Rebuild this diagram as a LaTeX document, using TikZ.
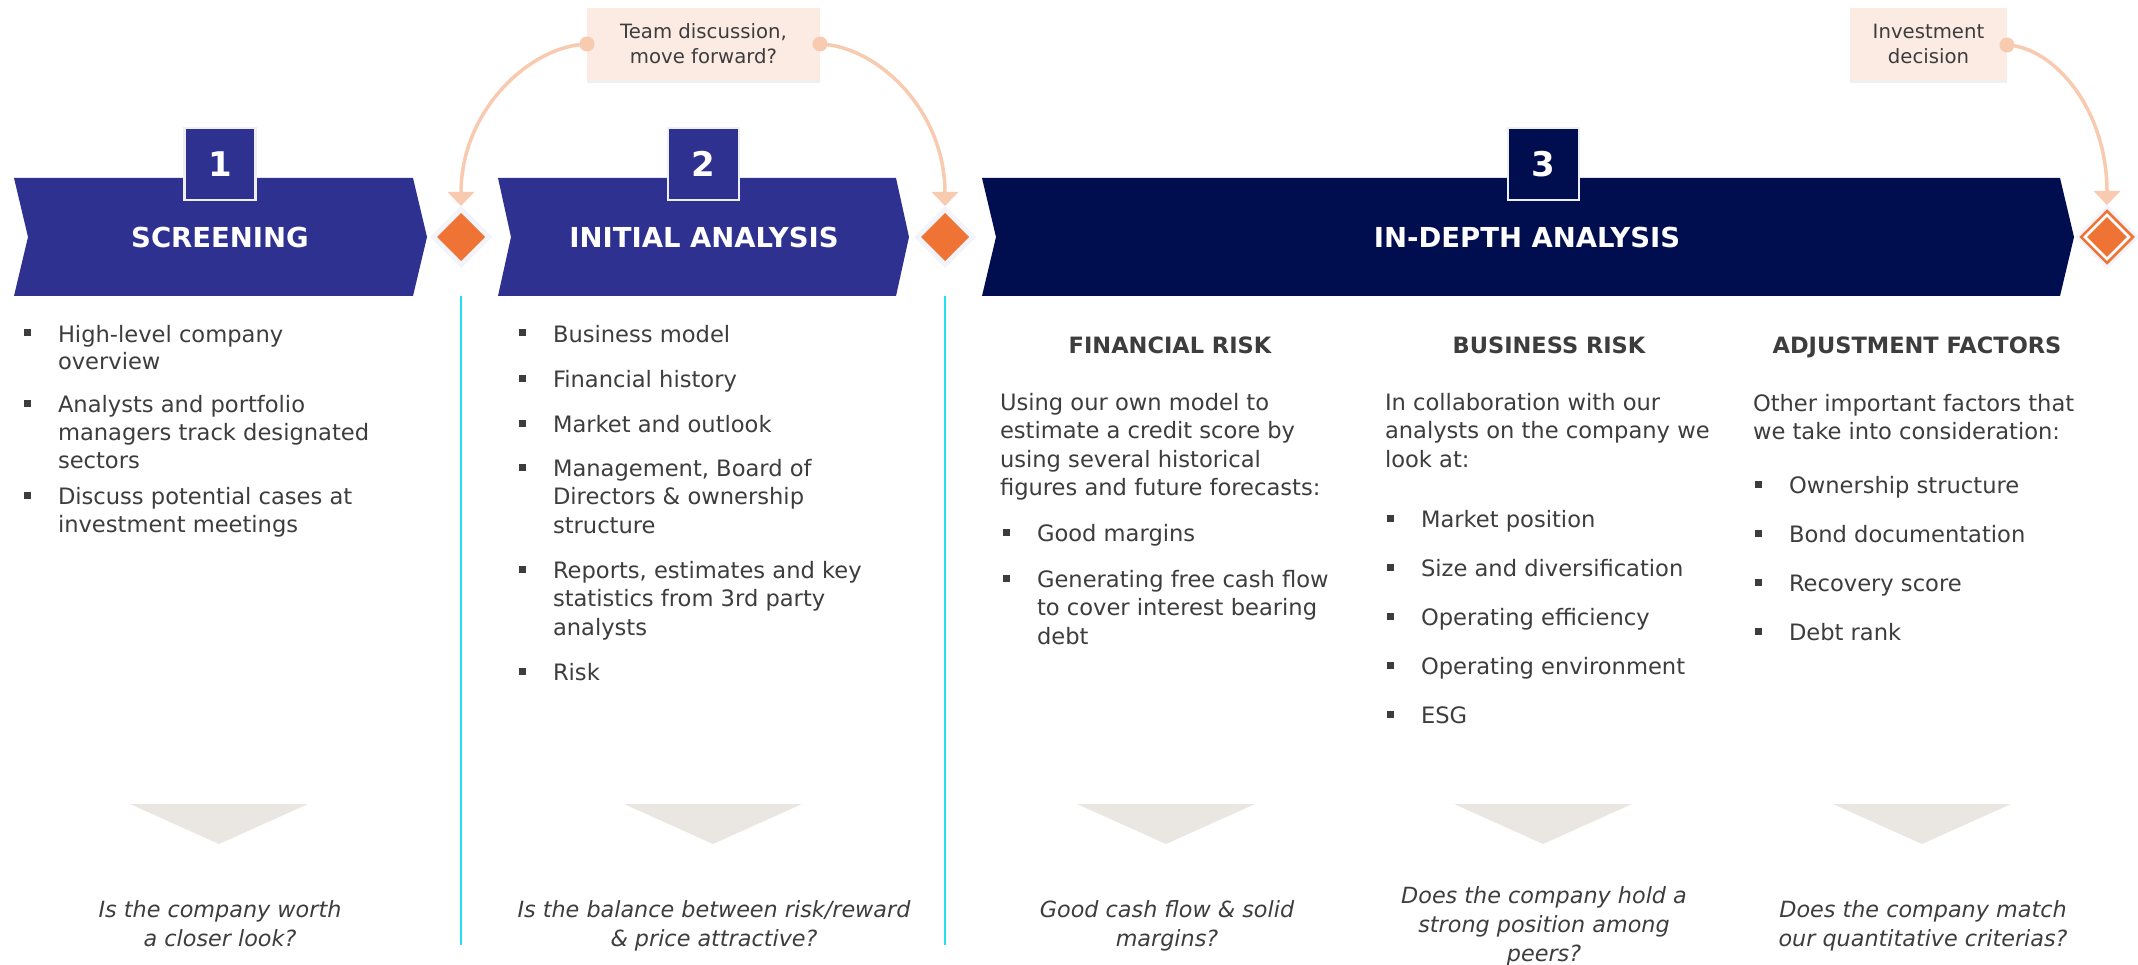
\documentclass[tikz,border=0pt]{standalone}
\usepackage{fontspec}
\setmainfont{DejaVu Sans}
\usetikzlibrary{arrows.meta,shapes.geometric,shadows,calc}

\definecolor{stepblue}{HTML}{2E3190}
\definecolor{stepnavy}{HTML}{000D4F}
\definecolor{boxedge}{HTML}{EDEEF6}
\definecolor{gate}{HTML}{EE7335}
\definecolor{gatehalo}{HTML}{F3F4F9}
\definecolor{peach}{HTML}{FCEBE3}
\definecolor{peachline}{HTML}{F8CAB0}
\definecolor{bodytext}{HTML}{3D3D3D}
\definecolor{divider}{HTML}{22DFF2}
\definecolor{pointergray}{HTML}{EAE7E2}

% multi-line text blocks whose baseline is the first line
\newcommand\lns[1]{\begin{tabular}[t]{@{}l@{}}#1\end{tabular}}
\newcommand\clns[1]{\begin{tabular}[t]{@{}c@{}}#1\end{tabular}}

% bullet item: [style]{name}{x}{first baseline}{lines}
\newcommand\bulletpt[5][]{%
  \node[bodytxt,#1,anchor=base west] (#2) at (#3,#4) {\lns{#5}};
  \fill[bodytext] ($(#2.base west)+(-34.5,-5.5)$) rectangle ++(7,-7);
}

% grey pointer triangle below a column
\newcommand\pointerat[2]{%
  \coordinate (#1) at (#2,844);
  \fill[pointer] ($(#1)+(-89,-40)$) -- ($(#1)+(89,-40)$) -- (#1) -- cycle;
}

\begin{document}
\begin{tikzpicture}[x=1pt,y=-1pt,
  bodytxt/.style={inner sep=0pt,outer sep=0pt,text=bodytext,font=\fontsize{22.6}{28.6}\selectfont},
  col1/.style={font=\fontsize{22.6}{28}\selectfont},
  head/.style={inner sep=0pt,outer sep=0pt,text=bodytext,font=\fontsize{22.5}{27}\selectfont\bfseries},
  question/.style={inner sep=0pt,outer sep=0pt,text=bodytext,font=\fontsize{22.3}{29}\selectfont\itshape},
  title/.style={inner sep=0pt,outer sep=0pt,text=white,font=\fontsize{27.5}{33}\selectfont\bfseries},
  numbox/.style={minimum width=71pt,minimum height=72pt,inner sep=0pt,draw=boxedge,line width=2.5pt,text=white,font=\fontsize{34}{40}\selectfont\bfseries},
  note/.style={fill=peach,inner sep=0pt,outer sep=0pt,minimum height=72pt,align=center,text=bodytext,
    font=\fontsize{19.7}{25}\selectfont,
    drop shadow={opacity=0.12,shadow xshift=0pt,shadow yshift=-3pt}},
  halo/.style={diamond,aspect=1,fill=gatehalo,minimum width=62pt,minimum height=62pt,inner sep=0pt,outer sep=0pt},
  core/.style={diamond,aspect=1,fill=gate,minimum width=48pt,minimum height=48pt,inner sep=0pt,outer sep=0pt},
  link/.style={draw=peachline,line width=3.5pt,-{Triangle[width=26pt,length=14pt]}},
  linkdot/.style={fill=peachline},
  divline/.style={draw=divider,line width=2pt},
  pointer/.style={fill=pointergray}
]
\useasboundingbox (0,0) rectangle (2138,965);
\fill[white] (0,0) rectangle (2138,965);

% ---- stage chevrons ----
\fill[stepblue] (14,178) -- (413,178) -- (427,237) -- (413,296) -- (14,296) -- (28,237) -- cycle;
\fill[stepblue] (498,178) -- (896,178) -- (909,237) -- (896,296) -- (498,296) -- (511,237) -- cycle;
\fill[stepnavy] (982,178) -- (2060,178) -- (2074,237) -- (2060,296) -- (982,296) -- (996,237) -- cycle;

\node[title,anchor=base] (t1) at (220,247.5) {SCREENING};
\node[title,anchor=base] (t2) at (704,247.5) {INITIAL ANALYSIS};
\node[title,anchor=base] (t3) at (1527,247.5) {IN-DEPTH ANALYSIS};

\node[numbox,fill=stepblue] (n1) at (220,164) {1};
\node[numbox,fill=stepblue] (n2) at (703.5,164) {2};
\node[numbox,fill=stepnavy] (n3) at (1543.5,164) {3};

% ---- decision gates ----
\node[halo] (d1) at (461,237) {};
\node[core] (d1c) at (d1) {};
\node[halo] (d2) at (945,237) {};
\node[core] (d2c) at (d2) {};
\node[halo,minimum width=64pt,minimum height=64pt] (d3) at (2107,237) {};
\node[diamond,aspect=1,draw=gate,fill=white,line width=2.5pt,minimum width=53pt,minimum height=53pt,inner sep=0pt] (d3r) at (d3) {};
\node[diamond,aspect=1,fill=gate,minimum width=40pt,minimum height=40pt,inner sep=0pt] (d3c) at (d3) {};

% ---- column dividers ----
\coordinate (v1a) at (461,296); \coordinate (v1b) at (461,945);
\coordinate (v2a) at (945,296); \coordinate (v2b) at (945,945);
\draw[divline] (v1a) -- (v1b);
\draw[divline] (v2a) -- (v2b);

% ---- discussion notes and their links ----
\node[note,minimum width=233pt] (team) at (703.5,44) {Team discussion,\\move forward?};
\node[note,minimum width=157pt] (invest) at (1928.5,44) {Investment\\decision};

\draw[link] (team.west) .. controls +(-57,2) and +(0,-96) .. (d1.north);
\draw[link] (team.east) .. controls +(57,2) and +(0,-96) .. (d2.north);
\draw[link] ($(invest.east)+(0,1)$) .. controls +(46,2) and +(0,-97) .. (d3.north);
\fill[linkdot] (team.west) circle (7.5);
\fill[linkdot] (team.east) circle (7.5);
\fill[linkdot] ($(invest.east)+(0,1)$) circle (7.5);

% ---- column 1: screening ----
\bulletpt[col1]{c1a}{58}{342}{High-level company\\overview}
\bulletpt[col1]{c1b}{58}{412}{Analysts and portfolio\\managers track designated\\sectors}
\bulletpt[col1]{c1c}{58}{504}{Discuss potential cases at\\investment meetings}

% ---- column 2: initial analysis ----
\bulletpt{c2a}{553}{342}{Business model}
\bulletpt{c2b}{553}{387}{Financial history}
\bulletpt{c2c}{553}{432}{Market and outlook}
\bulletpt{c2d}{553}{476}{Management, Board of\\Directors \& ownership\\structure}
\bulletpt{c2e}{553}{578}{Reports, estimates and key\\statistics from 3rd party\\analysts}
\bulletpt{c2f}{553}{680}{Risk}

% ---- column 3: in-depth analysis ----
\node[head,anchor=base] (h1) at (1170,354) {FINANCIAL RISK};
\node[bodytxt,anchor=base west] (p1) at (1000,410) {\lns{Using our own model to\\estimate a credit score by\\using several historical\\figures and future forecasts:}};
\bulletpt{c3a}{1037}{541}{Good margins}
\bulletpt{c3b}{1037}{587}{Generating free cash flow\\to cover interest bearing\\debt}

\node[head,anchor=base] (h2) at (1549,354) {BUSINESS RISK};
\node[bodytxt,anchor=base west] (p2) at (1385,410) {\lns{In collaboration with our\\analysts on the company we\\look at:}};
\bulletpt{c4a}{1421}{527}{Market position}
\bulletpt{c4b}{1421}{576}{Size and diversification}
\bulletpt{c4c}{1421}{625}{Operating efficiency}
\bulletpt{c4d}{1421}{674}{Operating environment}
\bulletpt{c4e}{1421}{723}{ESG}

\node[head,anchor=base] (h3) at (1917,354) {ADJUSTMENT FACTORS};
\node[bodytxt,anchor=base west] (p3) at (1753,411) {\lns{Other important factors that\\we take into consideration:}};
\bulletpt{c5a}{1789}{493}{Ownership structure}
\bulletpt{c5b}{1789}{542}{Bond documentation}
\bulletpt{c5c}{1789}{591}{Recovery score}
\bulletpt{c5d}{1789}{640}{Debt rank}

% ---- pointers and key questions ----
\pointerat{k1}{219}
\pointerat{k2}{713}
\pointerat{k3}{1166}
\pointerat{k4}{1543}
\pointerat{k5}{1922}

\node[question,anchor=base] (q1) at (220,917) {\clns{Is the company worth\\a closer look?}};
\node[question,anchor=base] (q2) at (714,917) {\clns{Is the balance between risk/reward\\\& price attractive?}};
\node[question,anchor=base] (q3) at (1167,917) {\clns{Good cash flow \& solid\\margins?}};
\node[question,anchor=base] (q4) at (1544,903) {\clns{Does the company hold a\\strong position among\\peers?}};
\node[question,anchor=base] (q5) at (1923,917) {\clns{Does the company match\\our quantitative criterias?}};
\end{tikzpicture}
\end{document}
